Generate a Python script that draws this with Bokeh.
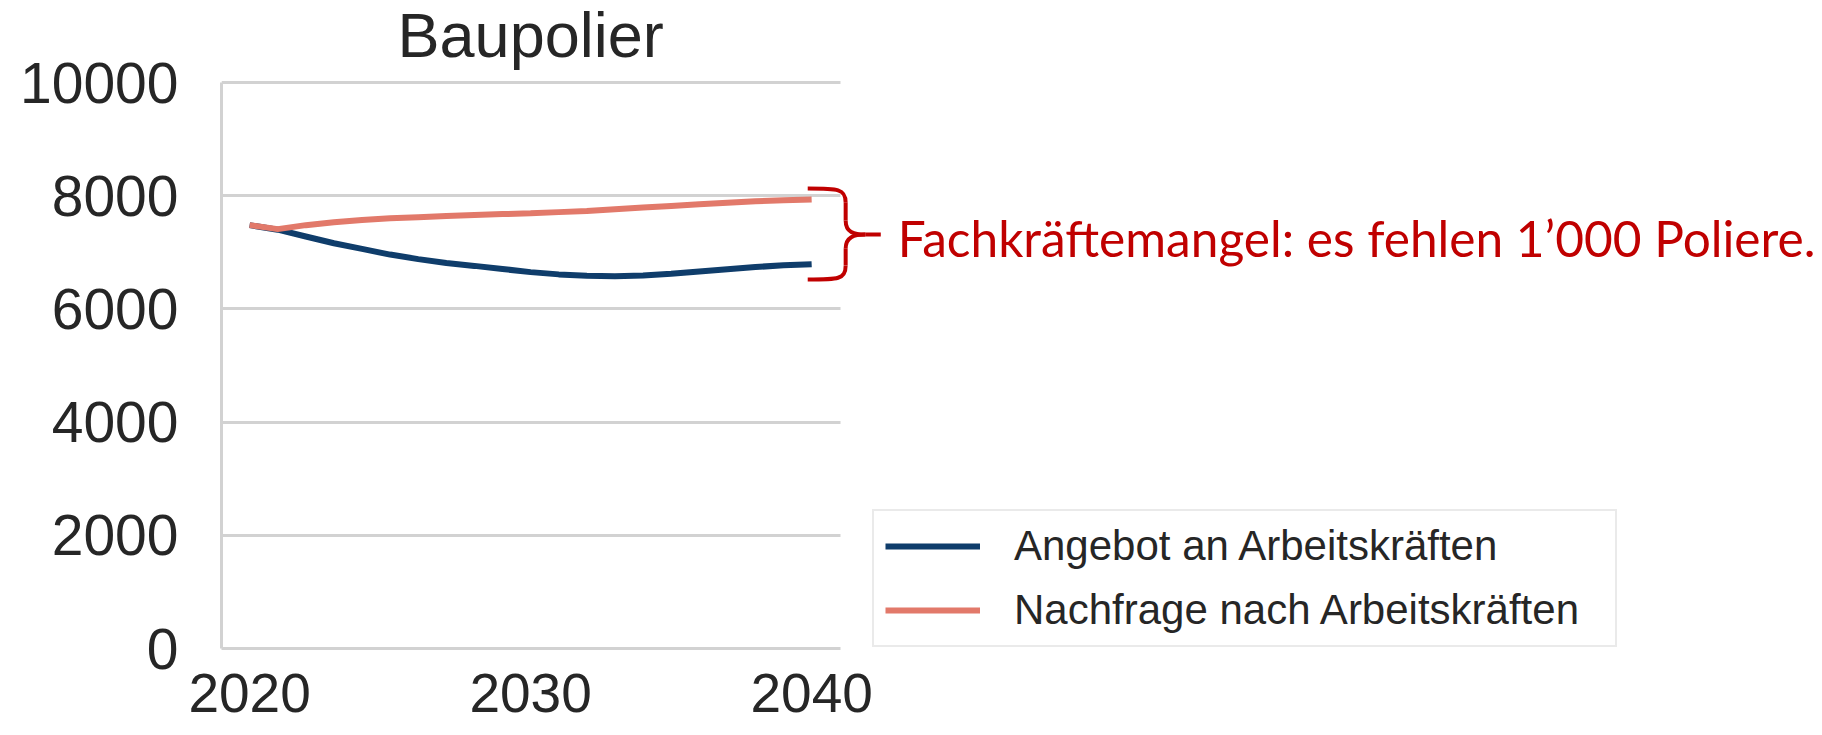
from bokeh.plotting import figure
from bokeh.models import Range1d, FixedTicker, Legend, LegendItem, Label
from bokeh.embed import file_html
from bokeh.resources import INLINE

# ---------------- data ----------------
title_text = "Baupolier"
years = list(range(2020, 2041))
angebot = [7480, 7400, 7280, 7160, 7060, 6960, 6880, 6810, 6760, 6705,
           6650, 6610, 6585, 6575, 6590, 6620, 6660, 6700, 6740, 6770, 6790]
nachfrage = [7480, 7410, 7480, 7530, 7570, 7600, 7620, 7640, 7660, 7675,
             7690, 7710, 7730, 7760, 7790, 7820, 7850, 7875, 7900, 7920, 7935]
series_names = ["Angebot an Arbeitskräften", "Nachfrage nach Arbeitskräften"]
y_ticks = [0, 2000, 4000, 6000, 8000, 10000]
x_ticks = [2020, 2030, 2040]
annotation_text = "Fachkräftemangel: es fehlen 1’000 Poliere."

# annotation geometry (data units)
brace_arm_x = 2039.86
brace_spine_x = 2041.21
brace_tip_x = 2042.46
brace_top = 8127
brace_bottom = 6519
brace_mid = 7314

# ---------------- styles ----------------
BLUE = "#0f3d6b"
RED = "#e2796a"
ANN_RED = "#c00000"
GRID = "#d2d2d2"
TXT = "#262626"
FONT = "Liberation Sans"

X_START, X_END = 2019.0, 2075.97
Y_START, Y_END = 0, 11449

p = figure(width=1822, height=735, output_backend="svg", toolbar_location=None,
           x_range=Range1d(X_START, X_END), y_range=Range1d(Y_START, Y_END),
           min_border_left=221, min_border_right=0, min_border_top=0,
           min_border_bottom=87)
p.title.text = ""
p.outline_line_color = None
p.background_fill_color = "white"
p.border_fill_color = "white"

# axes
p.yaxis.ticker = FixedTicker(ticks=y_ticks)
p.xaxis.ticker = FixedTicker(ticks=x_ticks)
p.yaxis.bounds = (0, 10000)
p.xaxis.bounds = (2019.0, 2041.03)
for ax in (p.xaxis[0], p.yaxis[0]):
    ax.axis_line_color = GRID
    ax.axis_line_width = 3
    ax.major_tick_line_color = None
    ax.minor_tick_line_color = None
    ax.major_tick_out = 0
    ax.major_tick_in = 0
    ax.major_label_text_font = FONT
    ax.major_label_text_color = TXT
p.yaxis.major_label_text_font_size = "57px"
p.yaxis.major_label_standoff = 43
p.xaxis.major_label_text_font_size = "55px"
p.xaxis.major_label_standoff = 25
p.xaxis.major_label_text_line_height = 1.0

p.xgrid.visible = False
p.ygrid.ticker = FixedTicker(ticks=y_ticks)
p.ygrid.grid_line_color = GRID
p.ygrid.grid_line_width = 3
p.ygrid.cross_bounds = (2019.0, 2041.03)

# series
r1 = p.line(years, angebot, line_color=BLUE, line_width=6)
r2 = p.line(years, nachfrage, line_color=RED, line_width=6)

legend = Legend(items=[LegendItem(label=series_names[0], renderers=[r1]),
                       LegendItem(label=series_names[1], renderers=[r2])],
                location=(651, 1), orientation="vertical",
                label_text_font=FONT, label_text_font_size="42px",
                label_text_color=TXT, glyph_width=95, glyph_height=30,
                label_standoff=34, label_width=590, padding=11, spacing=16,
                margin=0, border_line_color="#d6d6d6", border_line_width=2,
                background_fill_color="white", background_fill_alpha=1.0)
p.add_layout(legend)

# title centred over the chart area
p.add_layout(Label(x=2030, y=10848, text=title_text, text_font=FONT,
                   text_font_size="63px", text_color=TXT, text_align="center",
                   text_baseline="middle"))

# brace
dx = brace_spine_x - brace_arm_x
r = 250
p.bezier(x0=[brace_arm_x, brace_spine_x + 0.7, brace_spine_x + 0.7, brace_spine_x],
         y0=[brace_top, brace_mid, brace_mid, brace_bottom + r],
         x1=[brace_spine_x, brace_spine_x, brace_spine_x, brace_arm_x],
         y1=[brace_top - r, brace_mid + r, brace_mid - r, brace_bottom],
         cx0=[brace_arm_x + 0.8 * dx, brace_spine_x + 0.3, brace_spine_x + 0.3, brace_spine_x],
         cy0=[brace_top, brace_mid, brace_mid, brace_bottom],
         cx1=[brace_spine_x, brace_spine_x, brace_spine_x, brace_arm_x + 0.8 * dx],
         cy1=[brace_top, brace_mid + 40, brace_mid - 40, brace_bottom],
         line_color=ANN_RED, line_width=4)
p.segment(x0=[brace_spine_x, brace_spine_x, brace_spine_x + 0.7],
          y0=[brace_top - r, brace_mid - r, brace_mid],
          x1=[brace_spine_x, brace_spine_x, brace_tip_x],
          y1=[brace_mid + r, brace_bottom + r, brace_mid],
          line_color=ANN_RED, line_width=4)

p.add_layout(Label(x=2043.06, y=7253, text=annotation_text,
                   text_font="Lato", text_font_size="49.6px", text_color=ANN_RED,
                   text_align="left", text_baseline="middle"))

open("out.html", "w").write(file_html(p, INLINE))
